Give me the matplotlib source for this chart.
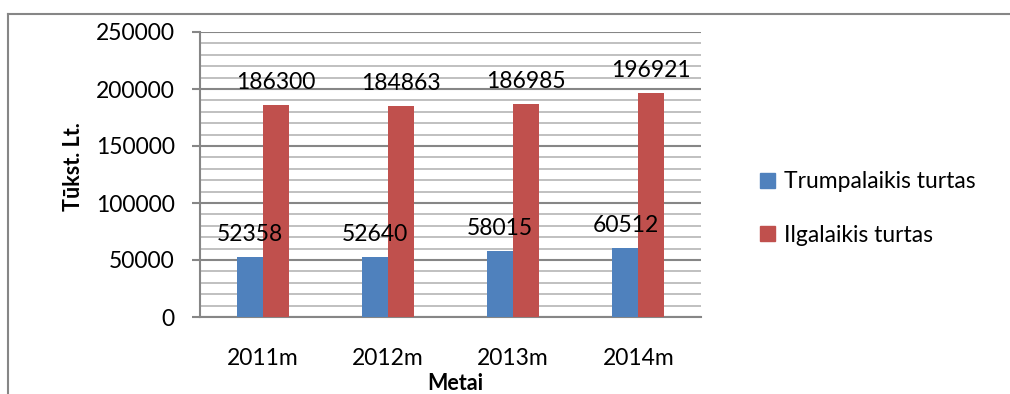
import numpy as np
import matplotlib.pyplot as plt
from matplotlib.lines import Line2D
from matplotlib.patches import Patch
from matplotlib.ticker import MultipleLocator

# duomenys (tūkst. Lt.)
metai = ["2011m", "2012m", "2013m", "2014m"]
trumpalaikis = [52358, 52640, 58015, 60512]
ilgalaikis = [186300, 184863, 186985, 196921]

plt.rcParams["font.family"] = ["Lato", "DejaVu Sans"]

W, H = 1010, 394
fig = plt.figure(figsize=(W / 100, H / 100), dpi=100)
ax = fig.add_axes([200 / W, (H - 317) / H, 501 / W, 285 / H])

x = np.arange(len(metai))
w = 0.207
b1 = ax.bar(x - w / 2, trumpalaikis, width=w, color="#4F81BD", zorder=3)
b2 = ax.bar(x + w / 2, ilgalaikis, width=w, color="#C0504D", zorder=3)

# reikšmės virš stulpelių
for bars, vals in ((b1, trumpalaikis), (b2, ilgalaikis)):
    for rect, v in zip(bars, vals):
        ax.annotate(str(v), (rect.get_x() + rect.get_width() / 2, v),
                    xytext=(0, 11.5), textcoords="offset points",
                    ha="center", va="baseline", fontsize=16.5, zorder=4)

ax.set_xlim(-0.5, len(metai) - 0.5)
ax.set_ylim(0, 250000)
ax.yaxis.set_major_locator(MultipleLocator(50000))
ax.yaxis.set_minor_locator(MultipleLocator(10000))
ax.grid(which="major", axis="y", color="#868686", linewidth=1.5, zorder=1)
ax.grid(which="minor", axis="y", color="#c0c0c0", linewidth=1.4, zorder=1)

ax.set_xticks(x)
ax.set_xticklabels(metai)
ax.tick_params(axis="x", length=0, pad=22, labelsize=16.5)
ax.tick_params(axis="y", which="major", length=6, width=1.5, color="#868686",
               pad=12, labelsize=16.5)
ax.tick_params(axis="y", which="minor", length=0)

for s in ("top", "right"):
    ax.spines[s].set_visible(False)
for s in ("left", "bottom"):
    ax.spines[s].set_color("#868686")
    ax.spines[s].set_linewidth(1.5)

fig.text(73 / W, 1 - 167 / H, "Tūkst. Lt.", rotation=90, fontsize=15.5,
         fontweight="bold", ha="center", va="center")
fig.text(455 / W, 1 - 384 / H, "Metai", fontsize=15.5, fontweight="bold",
         ha="center", va="center")

handles = [Patch(color="#4F81BD", label="Trumpalaikis turtas"),
           Patch(color="#C0504D", label="Ilgalaikis turtas")]
fig.legend(handles=handles, loc="upper left",
           bbox_to_anchor=(749 / W, 1 - 160 / H), frameon=False,
           fontsize=16.5, handlelength=0.62, handleheight=0.62,
           handletextpad=0.42, labelspacing=1.4, borderpad=0)

# rėmelis aplink diagramą
fig.add_artist(Line2D([8 / W, 1], [1 - 14 / H, 1 - 14 / H],
                      transform=fig.transFigure, color="#868686", linewidth=1.5))
fig.add_artist(Line2D([8 / W, 8 / W], [0, 1 - 14 / H],
                      transform=fig.transFigure, color="#868686", linewidth=1.5))

fig.savefig("out.png", dpi=100)
